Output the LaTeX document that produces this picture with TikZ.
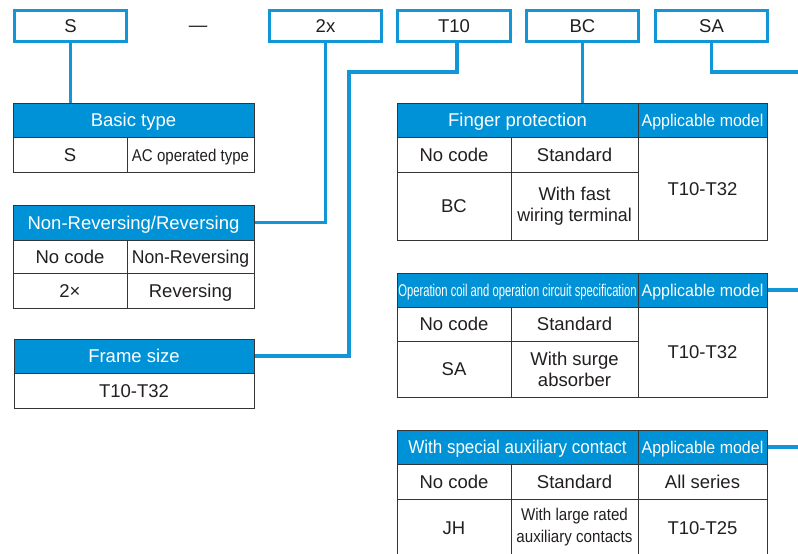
\documentclass[tikz,border=0pt]{standalone}
\usepackage{fontspec}
\setmainfont{Liberation Sans}
\usepackage{graphicx}
\usetikzlibrary{backgrounds}
\definecolor{hblue}{RGB}{0,146,214}
\definecolor{lblue}{RGB}{18,150,215}
\definecolor{tline}{RGB}{55,52,53}
\definecolor{txt}{RGB}{35,31,32}
\newcommand{\cnd}[2]{\scalebox{#1}[1]{#2}}
\newcommand{\cell}[7]{\node[#6, minimum width={(#4-#2)*1pt}, minimum height={(#5-#3)*1pt}] (#1) at ({(#2+#4)/2},{(#3+#5)/2}) {#7};}
\tikzset{
  cellbox/.style={draw=tline, line width=1pt, inner sep=0pt, align=center, text=txt,
    font=\fontsize{18.5}{21}\selectfont, text height=13.3pt, text depth=0pt},
  multi/.style={text height={}, text depth={}},
  headbox/.style={cellbox, fill=hblue, text=white},
  codebox/.style={cellbox, draw=lblue, line width=3pt, fill=white},
  link/.style={draw=lblue, line width=3.5pt}
}
\begin{document}
\begin{tikzpicture}[x=1pt,y=-1pt]
\useasboundingbox (0,0) rectangle (798,554);
\clip (0,0) rectangle (798,554);
% code boxes
\cell{cs}{14.5}{10.5}{126.5}{41.5}{codebox}{S}
\cell{cx}{269.5}{10.5}{381.5}{41.5}{codebox}{2x}
\cell{ct}{397.5}{10.5}{510.5}{41.5}{codebox}{T10}
\cell{cb}{526.5}{10.5}{638.5}{41.5}{codebox}{BC}
\cell{ca}{655.5}{10.5}{767.5}{41.5}{codebox}{SA}
\node[text=txt, font=\fontsize{18.5}{21}\selectfont, inner sep=0pt, text height=13.3pt, text depth=0pt] (dash) at (198,24.5) {—};
% Basic type
\cell{bth}{13}{103}{254}{137}{headbox}{Basic type}
\cell{bt1}{13}{137}{127}{172}{cellbox}{S}
\cell{bt2}{127}{137}{254}{172}{cellbox}{\cnd{0.885}{\fontsize{17}{20}\selectfont AC operated type}}
% Non-Reversing/Reversing
\cell{nrh}{13}{205}{254}{240}{headbox}{Non-Reversing/Reversing}
\cell{nr1}{13}{240}{127}{273}{cellbox}{No code}
\cell{nr2}{127}{240}{254}{273}{cellbox}{\cnd{0.95}{Non-Reversing}}
\cell{nr3}{13}{273}{127}{308}{cellbox}{2×}
\cell{nr4}{127}{273}{254}{308}{cellbox}{Reversing}
% Frame size
\cell{fsh}{14}{339}{254}{373}{headbox}{Frame size}
\cell{fs1}{14}{373}{254}{408}{cellbox}{T10-T32}
% Finger protection
\cell{fph}{397}{103}{638}{137}{headbox}{Finger protection}
\cell{fpa}{638}{103}{767}{137}{headbox}{\cnd{0.94}{\fontsize{17}{20}\selectfont Applicable model}}
\cell{fp1}{397}{137}{511}{172}{cellbox}{No code}
\cell{fp2}{511}{137}{638}{172}{cellbox}{Standard}
\cell{fp3}{397}{172}{511}{240}{cellbox}{BC}
\cell{fp4}{511}{172}{638}{240}{cellbox,multi}{With fast\\\cnd{0.96}{wiring terminal}}
\cell{fp5}{638}{137}{767}{240}{cellbox}{T10-T32}
% Operation coil
\cell{och}{397}{273}{638}{307}{headbox}{\cnd{0.66}{\fontsize{17}{20}\selectfont Operation coil and operation circuit specification}}
\cell{oca}{638}{273}{767}{307}{headbox}{\cnd{0.94}{\fontsize{17}{20}\selectfont Applicable model}}
\cell{oc1}{397}{307}{511}{341}{cellbox}{No code}
\cell{oc2}{511}{307}{638}{341}{cellbox}{Standard}
\cell{oc3}{397}{341}{511}{397}{cellbox}{SA}
\cell{oc4}{511}{341}{638}{397}{cellbox,multi}{With surge\\absorber}
\cell{oc5}{638}{307}{767}{397}{cellbox}{T10-T32}
% Special auxiliary contact
\cell{sph}{397}{430}{638}{464}{headbox}{\cnd{0.92}{With special auxiliary contact}}
\cell{spa}{638}{430}{767}{464}{headbox}{\cnd{0.94}{\fontsize{17}{20}\selectfont Applicable model}}
\cell{sp1}{397}{464}{511}{499}{cellbox}{No code}
\cell{sp2}{511}{464}{638}{499}{cellbox}{Standard}
\cell{sp3}{638}{464}{767}{499}{cellbox}{All series}
\cell{sp4}{397}{499}{511}{556}{cellbox}{JH}
\cell{sp5}{511}{499}{638}{556}{cellbox,multi}{\cnd{0.89}{\fontsize{17}{22}\selectfont\begin{tabular}{@{}c@{}}With large rated\\[0pt]auxiliary contacts\end{tabular}}}
\cell{sp6}{638}{499}{767}{556}{cellbox}{T10-T25}
% connectors
\coordinate (k1) at (349,72);
\coordinate (k2) at (800,72);
\coordinate (edge) at (800,0);
\begin{scope}[on background layer]
\fill[white] (0,0) rectangle (798,554);
\draw[link] (cs.south) -- (cs.south |- bth.north);
\draw[link] (cx.south) |- (nrh.east);
\draw[link] ([xshift=3pt]ct.south) |- (k1) |- (fsh.east);
\draw[link] (cb.south) -- (cb.south |- fph.north);
\draw[link] (ca.south) |- (k2);
\draw[link] (oca.east) -- (oca.east -| edge);
\draw[link] (spa.east) -- (spa.east -| edge);
\end{scope}
\end{tikzpicture}
\end{document}
